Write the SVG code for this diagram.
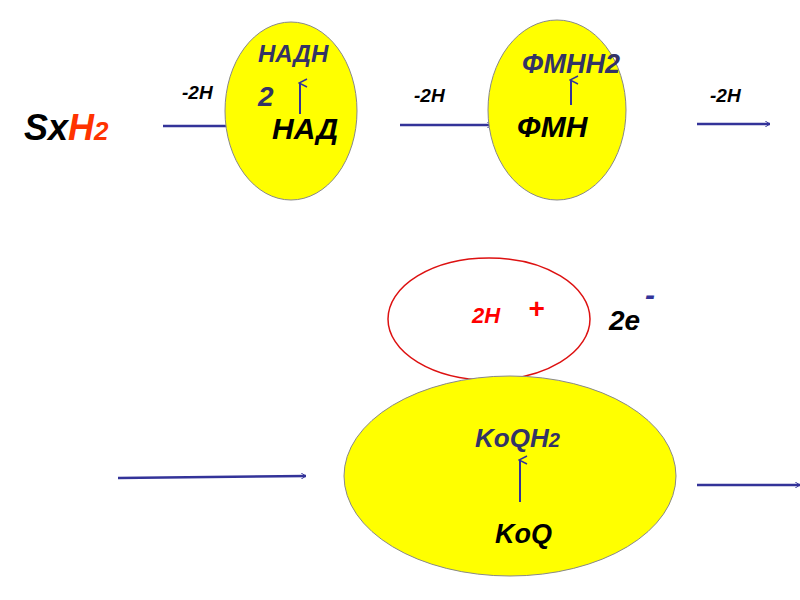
<svg xmlns="http://www.w3.org/2000/svg" width="800" height="600" viewBox="0 0 800 600">
<defs>
<marker id="ah" viewBox="0 0 10 10" refX="9" refY="5" markerWidth="6" markerHeight="6" orient="auto" markerUnits="userSpaceOnUse"><path d="M1,0 L9,5 L1,10" fill="none" stroke="#333399" stroke-width="1.6"/></marker>
<marker id="ahs" viewBox="0 0 10 10" refX="5" refY="2" markerWidth="10" markerHeight="10" orient="auto" markerUnits="userSpaceOnUse"><path d="M1,9 L5,1 L9,9" fill="none" stroke="#333399" stroke-width="1.5"/></marker>
</defs>
<style>
.y{fill:#ffff00;stroke:#888;stroke-width:1}
.c{stroke:#333399;stroke-width:2.5;fill:none;marker-end:url(#ah)}
.u{stroke:#333399;stroke-width:2;fill:none;marker-end:url(#ahs)}
text{font-family:"Liberation Sans",Arial,sans-serif;font-weight:bold;font-style:italic}
.lbl{font-size:19px;fill:#000}
.nav{fill:#333366}
</style>
<rect width="800" height="600" fill="#fff"/>
<g id="connectors">
<path class="c" d="M163,126 H250"/>
<path class="c" d="M400,125 H492"/>
<path class="c" d="M697,124 H770"/>
<path class="c" d="M118,478 L306,476"/>
<path class="c" d="M697,485 H800"/>
</g>
<g id="sxh2"><text x="24" y="140" font-size="36" fill="#000">Sx<tspan fill="#ff3300">H</tspan><tspan fill="#ff3300" font-size="26">2</tspan></text></g>
<text class="lbl" x="182" y="99">-2H</text>
<text class="lbl" x="414" y="102">-2H</text>
<text class="lbl" x="710" y="102">-2H</text>
<g id="nad">
<ellipse class="y" cx="291" cy="111" rx="66" ry="89"/>
<text class="nav" x="258" y="62" font-size="24">НАДН</text>
<text class="nav" x="258" y="106" font-size="28">2</text>
<path class="u" d="M300,114 V83"/>
<text x="272" y="139" font-size="30" fill="#000">НАД</text>
</g>
<g id="fmn">
<ellipse class="y" cx="557" cy="110" rx="69" ry="90"/>
<text class="nav" x="522" y="73" font-size="27">ФМНН2</text>
<path class="u" d="M571,105 V80"/>
<text x="517" y="137" font-size="30" fill="#000">ФМН</text>
</g>
<g id="h">
<ellipse cx="489" cy="319" rx="101" ry="61" fill="none" stroke="#dd1111" stroke-width="1.5"/>
<text x="472" y="323" font-size="22" fill="#ff0000">2H</text>
<text x="528" y="318" font-size="28" fill="#ff0000" font-style="normal">+</text>
</g>
<g id="e"><text x="609" y="330" font-size="28" fill="#000" font-style="normal">2e</text><text x="645" y="305" font-size="30" fill="#333399" font-style="normal">-</text></g>
<g id="koq">
<ellipse class="y" cx="510" cy="476" rx="166" ry="100"/>
<text x="475" y="447" font-size="26" fill="#333366" font-weight="normal">KoQH<tspan font-size="20">2</tspan></text>
<path class="u" d="M520,502 V460"/>
<text x="495" y="543" font-size="27" fill="#000" font-weight="normal">KoQ</text>
</g>
</svg>
